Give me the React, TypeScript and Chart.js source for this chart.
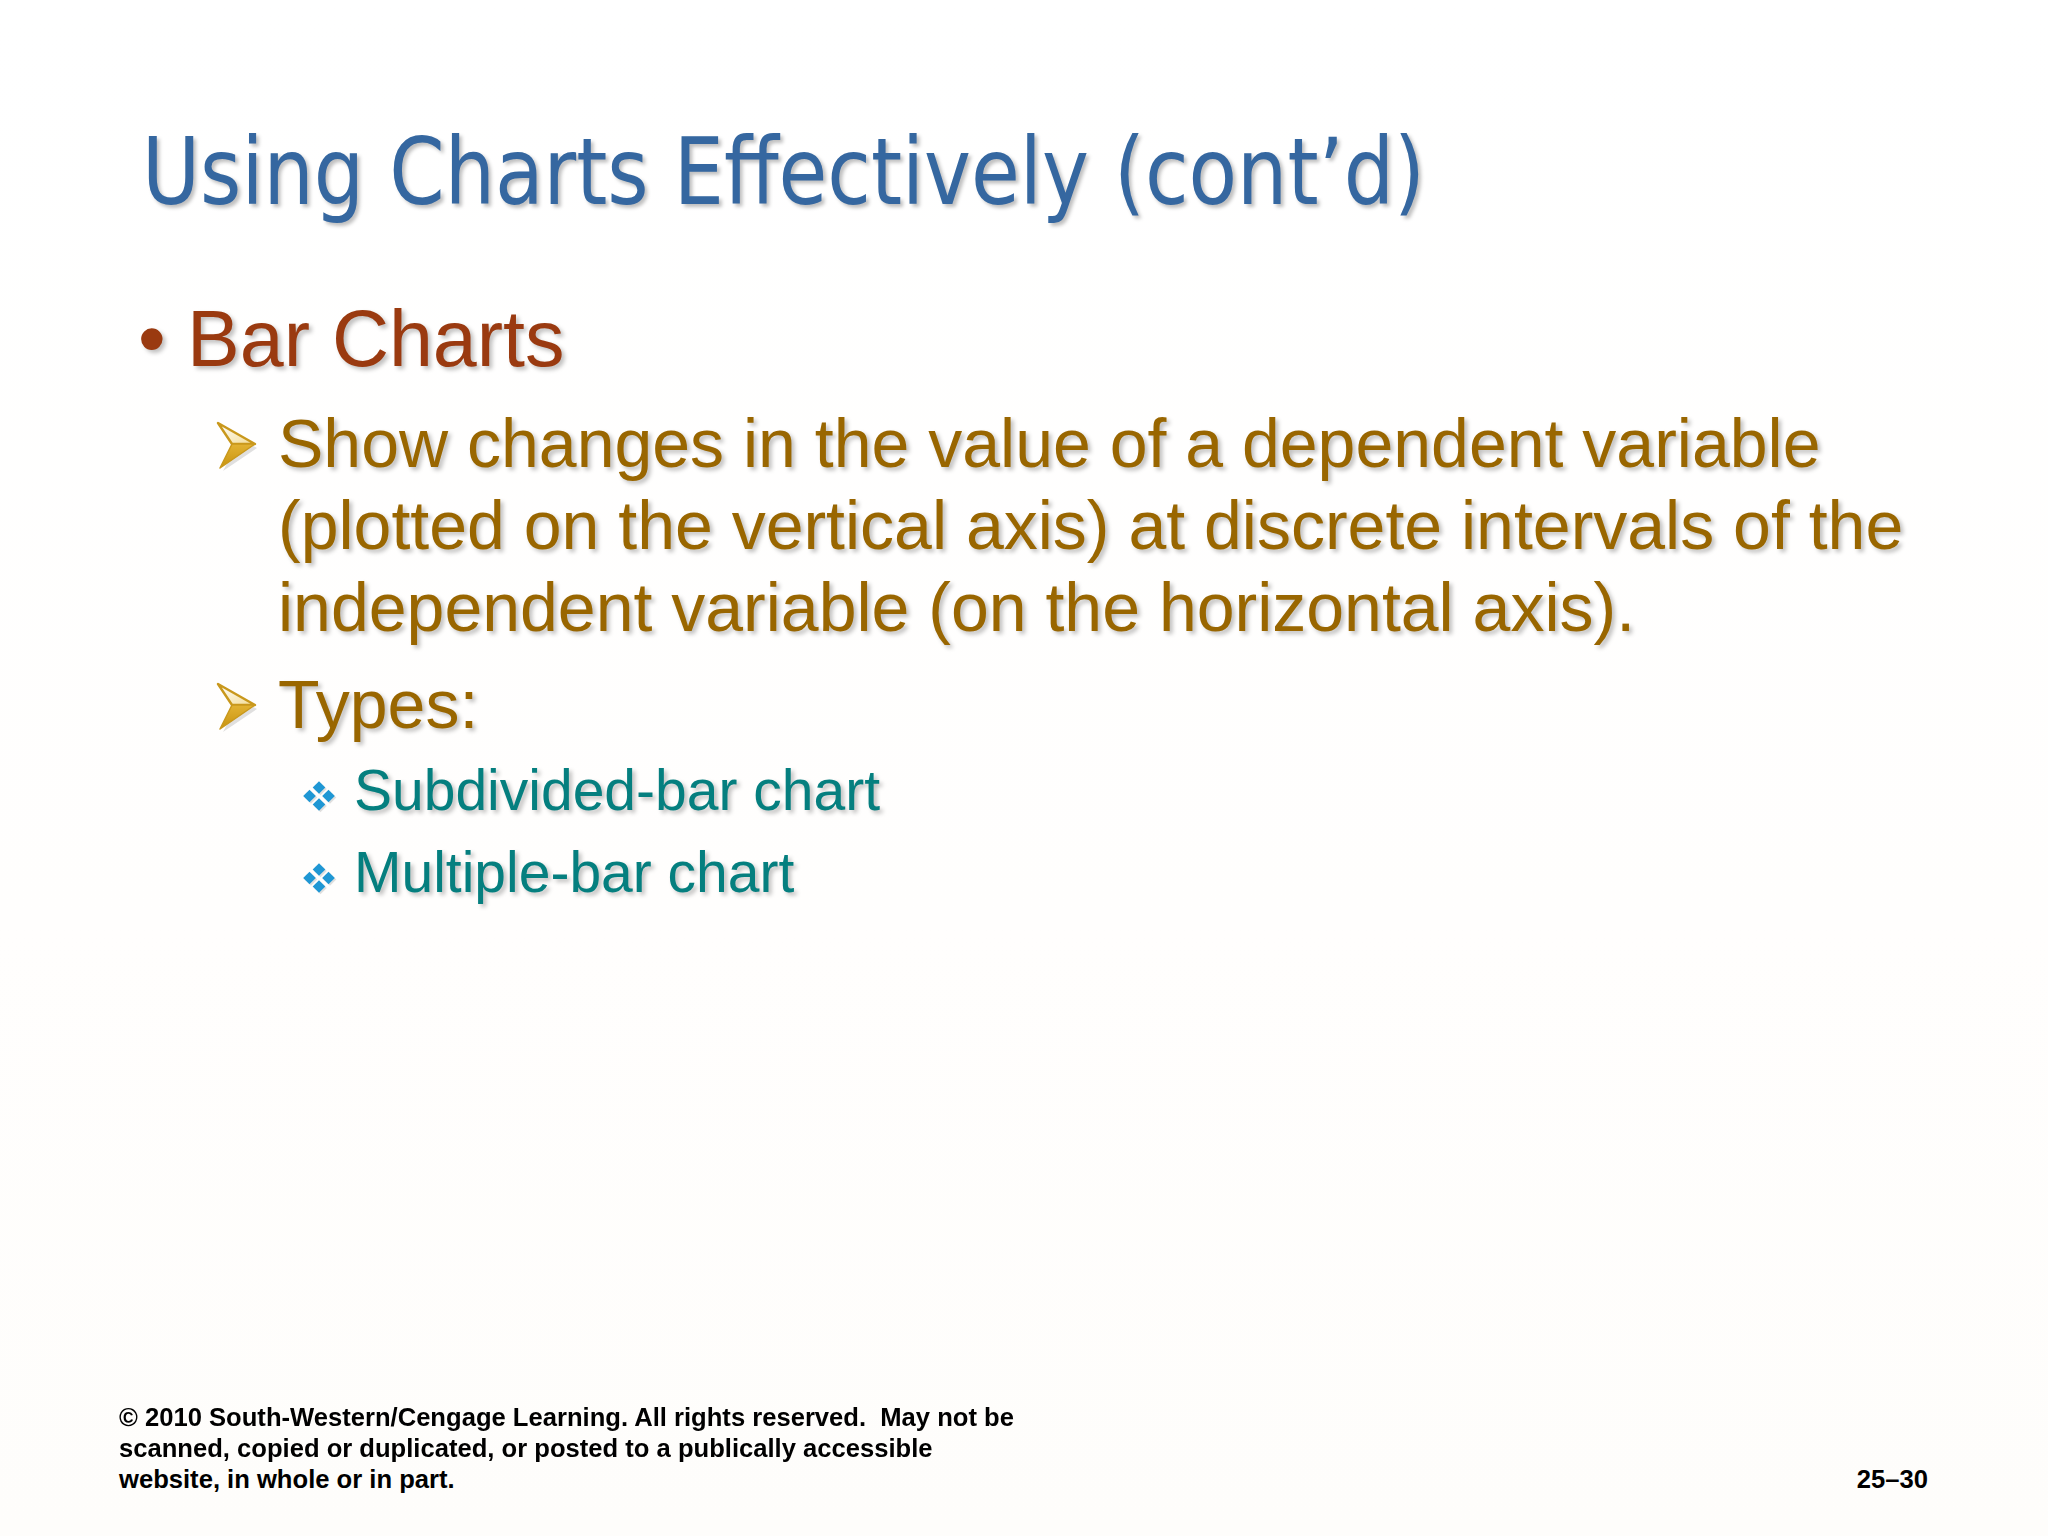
import React, { useEffect, useLayoutEffect, useRef } from "react";
import { Chart, registerables } from "chart.js";

Chart.register(...registerables);

// ---- slide content ----
const titleText = "Using Charts Effectively (cont\u2019d)";
const level1Items = ["Bar Charts"];
const level2Lines = [
  "Show changes in the value of a dependent variable",
  "(plotted on the vertical axis) at discrete intervals of the",
  "independent variable (on the horizontal axis).",
];
const level2Second = ["Types:"];
const level3Items = ["Subdivided-bar chart", "Multiple-bar chart"];
const footerLines = [
  "\u00a9 2010 South-Western/Cengage Learning. All rights reserved.  May not be",
  "scanned, copied or duplicated, or posted to a publically accessible",
  "website, in whole or in part.",
];
const pageNumber = ["25\u201330"];

// empty chart data (the slide carries no plotted values)
const chartCategories: string[] = [];
const chartValues: number[] = [];

const W = 2048;
const H = 1536;
const ARIAL = '"Liberation Sans", Arial, sans-serif';
const TAHOMA = '"DejaVu Sans Condensed", "DejaVu Sans", sans-serif';
const SHADOW = "3px 3px 4px rgba(0,0,0,0.25)";

type LineProps = {
  x?: number;
  right?: number;
  baseline: number;
  size: number;
  family: string;
  color: string;
  weight?: number | string;
  shadow?: string;
  stretch?: string;
  spanRef?: React.Ref<HTMLSpanElement>;
  children: React.ReactNode;
};

function Line({ x, right, baseline, size, family, color, weight, shadow, stretch, spanRef, children }: LineProps) {
  const style: React.CSSProperties = {
    position: "absolute",
    top: baseline - 0.846 * size,
    fontSize: size,
    lineHeight: `${size}px`,
    fontFamily: family,
    color,
    fontWeight: weight ?? 400,
    whiteSpace: "pre",
    textShadow: shadow,
    fontStretch: stretch,
  };
  if (x !== undefined) style.left = x;
  if (right !== undefined) style.right = right;
  return (
    <div style={style}>
      <span ref={spanRef} style={{ display: "inline-block", transformOrigin: "0 0" }}>
        {children}
      </span>
    </div>
  );
}

function Arrow({ x, y }: { x: number; y: number }) {
  return (
    <svg style={{ position: "absolute", left: x, top: y, overflow: "visible" }} width={40} height={47}>
      <defs>
        <linearGradient id={`ag${y}`} x1="0" y1="0" x2="1" y2="1">
          <stop offset="0" stopColor="#ffffff" />
          <stop offset="1" stopColor="#f3dc95" />
        </linearGradient>
        <linearGradient id={`bg${y}`} x1="0" y1="0" x2="0" y2="1">
          <stop offset="0" stopColor="#e2b232" />
          <stop offset="1" stopColor="#c8930f" />
        </linearGradient>
      </defs>
      <polygon points="4,5 40,26 6,49 18,26" fill="rgba(0,0,0,0.12)" />
      <polygon points="1,1 38,22 15,22" fill={`url(#ag${y})`} stroke="#c9981c" strokeWidth={2.4} strokeLinejoin="round" />
      <polygon points="15,22 38,22 3,46" fill={`url(#bg${y})`} stroke="#c9981c" strokeWidth={1.5} strokeLinejoin="round" />
    </svg>
  );
}

function Diamonds({ cx, cy }: { cx: number; cy: number }) {
  const h = 6.3;
  const pts = [
    [0, -8.5],
    [-9.5, 0],
    [9.5, 0],
    [0, 8.5],
  ];
  return (
    <svg style={{ position: "absolute", left: cx - 20, top: cy - 20, overflow: "visible" }} width={40} height={40}>
      {pts.map(([dx, dy], i) => {
        const x = 20 + dx;
        const y = 20 + dy;
        return (
          <g key={i}>
            <polygon
              points={`${x + 1.5},${y - h + 1.5} ${x + h + 1.5},${y + 1.5} ${x + 1.5},${y + h + 1.5} ${x - h + 1.5},${y + 1.5}`}
              fill="rgba(0,0,0,0.12)"
            />
            <polygon points={`${x},${y - h} ${x + h},${y} ${x},${y + h} ${x - h},${y}`} fill="#1f97d4" />
          </g>
        );
      })}
    </svg>
  );
}

export default function App() {
  const canvasRef = useRef<HTMLCanvasElement | null>(null);
  const titleRef = useRef<HTMLSpanElement | null>(null);

  useLayoutEffect(() => {
    const el = titleRef.current;
    if (!el) return;
    const target = 1283;
    const w = el.getBoundingClientRect().width;
    if (w > 0) el.style.transform = `scaleX(${target / w})`;
  }, []);

  useEffect(() => {
    document.body.style.margin = "0";
    const canvas = canvasRef.current;
    if (!canvas) return;
    const chart = new Chart(canvas, {
      type: "bar",
      data: {
        labels: chartCategories,
        datasets: [{ data: chartValues, backgroundColor: "#3567a0" }],
      },
      options: {
        animation: false,
        responsive: false,
        events: [],
        plugins: { legend: { display: false }, tooltip: { enabled: false }, title: { display: false } },
        scales: { x: { display: false }, y: { display: false } },
      },
    });
    return () => chart.destroy();
  }, []);

  return (
    <div
      style={{
        position: "absolute",
        left: 0,
        top: 0,
        width: W,
        height: H,
        overflow: "hidden",
        background: "linear-gradient(#ffffff 0%, #fffefd 60%, #fefdfb 100%)",
      }}
    >
      <canvas
        ref={canvasRef}
        width={1600}
        height={500}
        style={{ position: "absolute", left: 220, top: 940, width: 1600, height: 500, pointerEvents: "none" }}
      />

      <Line spanRef={titleRef} x={142} baseline={205} size={93} family={TAHOMA} color="#3567a0" shadow={SHADOW} stretch="condensed">
        {titleText}
      </Line>

      <Line x={138} baseline={366} size={79} family={ARIAL} color="#9a3a10" shadow={SHADOW}>
        {"\u2022"}
      </Line>
      <Line x={187} baseline={366} size={79} family={ARIAL} color="#9a3a10" shadow={SHADOW}>
        {level1Items[0]}
      </Line>

      <Arrow x={217} y={422} />
      {level2Lines.map((t, i) => (
        <Line key={t} x={278} baseline={467 + i * 82} size={68} family={ARIAL} color="#996600" shadow={SHADOW}>
          {t}
        </Line>
      ))}
      <Arrow x={217} y={683} />
      <Line x={278} baseline={728} size={68} family={ARIAL} color="#996600" shadow={SHADOW}>
        {level2Second[0]}
      </Line>

      {level3Items.map((t, i) => (
        <React.Fragment key={t}>
          <Diamonds cx={319} cy={796 + i * 82} />
          <Line x={354} baseline={810 + i * 82} size={57} family={ARIAL} color="#057f7f" shadow={SHADOW}>
            {t}
          </Line>
        </React.Fragment>
      ))}

      {footerLines.map((t, i) => (
        <Line key={t} x={119} baseline={1427 + i * 31} size={25.6} family={ARIAL} color="#000000" weight={700}>
          {t}
        </Line>
      ))}
      <Line right={W - 1928} baseline={1489} size={25.6} family={ARIAL} color="#000000" weight={700}>
        {pageNumber[0]}
      </Line>
    </div>
  );
}
